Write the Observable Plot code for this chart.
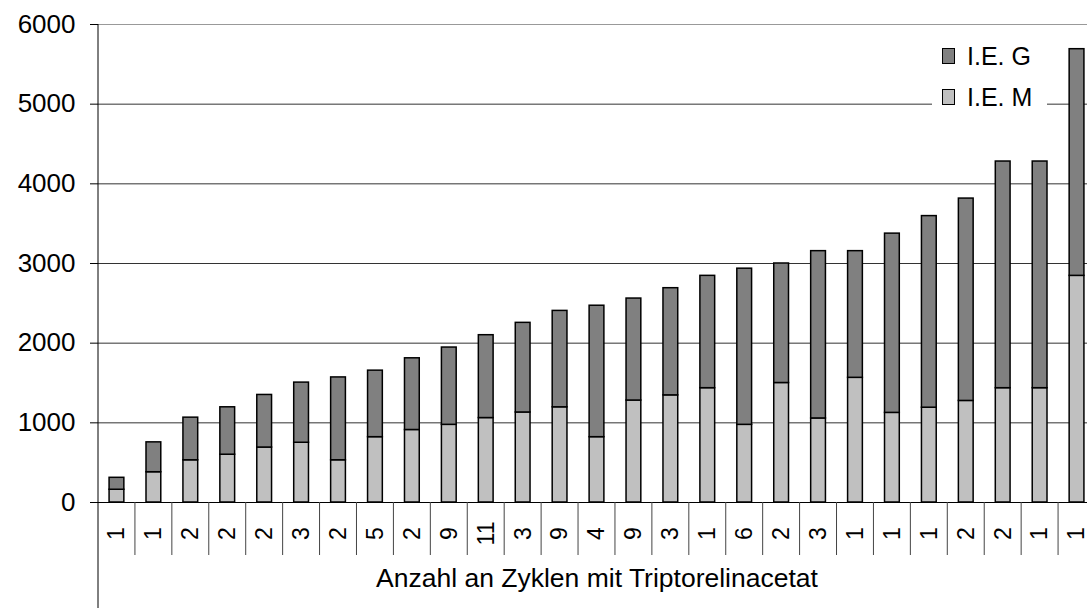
<!DOCTYPE html>
<html><head><meta charset="utf-8">
<script src="https://cdn.jsdelivr.net/npm/d3@7"></script>
<script src="https://cdn.jsdelivr.net/npm/@observablehq/plot@0.6"></script>
<style>
body{margin:0;background:#fff;font-family:"Liberation Sans",Arial,sans-serif;}
#wrap{position:relative;width:1087px;height:608px;overflow:hidden;}
.legend{position:absolute;left:932px;top:36px;width:115px;height:72px;background:#fff;}
.sw{position:absolute;left:10px;width:13px;height:16px;box-sizing:border-box;border:1.5px solid #000;}
.lab{position:absolute;left:35px;font-size:25px;line-height:25px;color:#000;white-space:nowrap;}
svg{overflow:hidden;}
</style></head><body><div id="wrap"></div>
<script>
const cycles = ["1","1","2","2","2","3","2","5","2","9","11","3","9","4","9","3","1","6","2","3","1","1","1","2","2","1","1"];
const ieM = [160,380,530,600,690,750,530,820,910,975,1060,1130,1195,820,1280,1345,1435,975,1500,1055,1565,1125,1190,1275,1435,1435,2845];
const ieG = [150,375,535,595,660,755,1040,835,900,970,1040,1125,1210,1650,1280,1345,1410,1960,1500,2100,1590,2250,2405,2540,2845,2845,2845];
const seriesNames = ["I.E. M","I.E. G"];
const seriesColors = ["#c0c0c0","#808080"];
const yTicks = [0,1000,2000,3000,4000,5000,6000];
const xTitle = "Anzahl an Zyklen mit Triptorelinacetat";

const idx = d3.range(cycles.length);
const table = [];
idx.forEach(i => {
  table.push({i, series: seriesNames[0], value: ieM[i]});
  table.push({i, series: seriesNames[1], value: ieG[i]});
});

const font = "Liberation Sans, Arial, sans-serif";
const plot = Plot.plot({
  width: 1087,
  height: 608,
  marginTop: 24,
  marginBottom: 106,
  marginLeft: 98,
  marginRight: -8,
  style: {fontFamily: font, color: "#000", background: "#fff"},
  x: {type: "band", domain: idx, paddingInner: 0.6, paddingOuter: 0.3, round: false, axis: null},
  y: {domain: [0, 6000], axis: null},
  color: {domain: seriesNames, range: seriesColors},
  marks: [
    Plot.ruleY(yTicks.filter(d => d > 0 && d < 6000), {stroke: "#333", strokeWidth: 1}),
    Plot.ruleY([6000], {stroke: "#999", strokeWidth: 1}),
    Plot.barY(table, {x: "i", y: "value", fill: "series", stroke: "#000", strokeWidth: 1.5}),
    Plot.ruleY([0], {stroke: "#000", strokeWidth: 1}),
    Plot.axisY({ticks: yTicks, tickSize: 8, tickPadding: 15, fontSize: 26, label: null, tickFormat: d => String(d), stroke: "#000"}),
    Plot.text(idx, {x: d => d, text: i => cycles[i], frameAnchor: "bottom", dy: 31, rotate: -90, fontSize: 23, textAnchor: "middle", lineAnchor: "middle", fill: "#000"}),
    Plot.text([xTitle], {frameAnchor: "bottom", dy: 84, fontSize: 26.5, fill: "#000"})
  ]
});

// axis lines and category dividers from the plot's own scales
const xs = plot.scale("x"), ys = plot.scale("y");
const svg = d3.select(plot);
const y0 = ys.apply(0);
const gap = (xs.step - xs.bandwidth) / 2;
const bounds = idx.map(i => xs.apply(i) - gap);
bounds.push(xs.apply(idx[idx.length - 1]) + xs.bandwidth + gap);
const g = svg.append("g");
g.selectAll("line.div").data(bounds.slice(1)).join("line")
  .attr("x1", d => d).attr("x2", d => d)
  .attr("y1", y0).attr("y2", y0 + 53)
  .attr("stroke", "#444").attr("stroke-width", 1);
g.append("line")
  .attr("x1", bounds[0]).attr("x2", bounds[0])
  .attr("y1", ys.apply(6000)).attr("y2", 608)
  .attr("stroke", "#000").attr("stroke-width", 1);

const wrap = document.getElementById("wrap");
wrap.appendChild(plot);

// legend
const leg = document.createElement("div");
leg.className = "legend";
const rows = [{name: seriesNames[1], color: seriesColors[1], top: 12}, {name: seriesNames[0], color: seriesColors[0], top: 53}];
rows.forEach(r => {
  const sw = document.createElement("div");
  sw.className = "sw"; sw.style.top = r.top + "px"; sw.style.background = r.color;
  const lab = document.createElement("div");
  lab.className = "lab"; lab.style.top = (r.top - 4) + "px"; lab.textContent = r.name;
  leg.appendChild(sw); leg.appendChild(lab);
});
wrap.appendChild(leg);
</script></body></html>
